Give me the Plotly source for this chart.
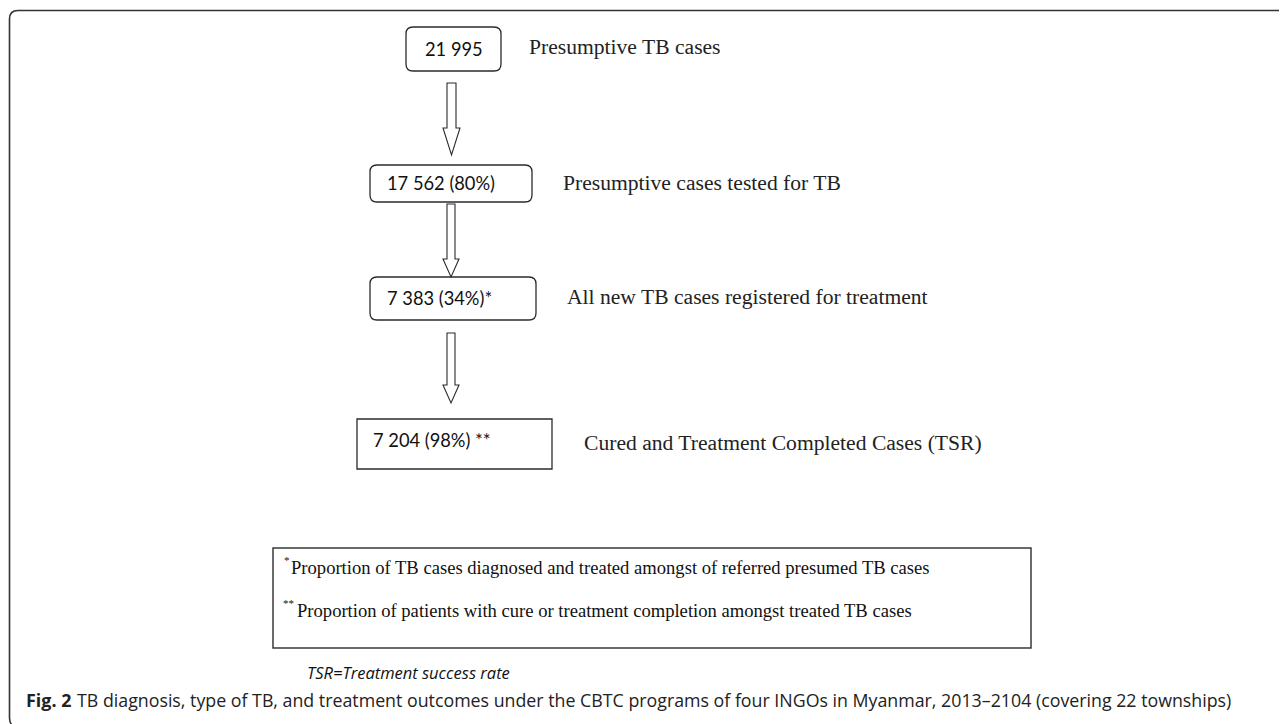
import plotly.graph_objects as go

# ---- data ----
counts = ["21 995", "17 562", "7 383", "7 204"]
percents = ["", "80%", "34%", "98%"]
marks = ["", "", "*", " **"]
stage_labels = [
    "Presumptive TB cases",
    "Presumptive cases tested for TB",
    "All new TB cases registered for treatment",
    "Cured and Treatment Completed Cases (TSR)",
]
footnote_marks = ["*", "**"]
footnote_texts = [
    "Proportion of TB cases diagnosed and treated amongst of referred presumed TB cases",
    "Proportion of patients with cure or treatment completion amongst treated TB cases",
]
abbrev_note = "TSR=Treatment success rate"
caption_bold = "Fig. 2"
caption_text = "TB diagnosis, type of TB, and treatment outcomes under the CBTC programs of four INGOs in Myanmar, 2013–2104 (covering 22 townships)"

# ---- layout geometry (pixels, y down) ----
W, H = 1287, 724
OFF = 8  # page body margin compensation
boxes = [  # x0, x1, y0, y1, rounded
    (406, 501, 27, 71, True),
    (370, 532, 165, 202, True),
    (370, 536, 277, 320, True),
    (357, 552, 419, 469, False),
]
box_text_pos = [(454, 49, "center"), (385, 183, "left"), (385, 298, "left"), (371, 440, "left")]
label_pos = [(527, 47), (561, 183), (565, 297), (582, 443)]
arrows = [  # shaft x0, x1, top, head start, head x0, x1, tip
    (447, 456, 83, 128, 443, 460, 155),
    (447, 455, 204, 259, 443, 459, 277),
    (447, 455, 333, 385, 443, 459, 403),
]
footnote_y = [567, 610]
footnote_mark_x = [283, 282]
footnote_text_x = [290, 296]

LINE = "#2b2b2b"


def rounded_path(x0, x1, y0, y1, r):
    return (f"M {x0+r},{y0} L {x1-r},{y0} Q {x1},{y0} {x1},{y0+r} "
            f"L {x1},{y1-r} Q {x1},{y1} {x1-r},{y1} L {x0+r},{y1} "
            f"Q {x0},{y1} {x0},{y1-r} L {x0},{y0+r} Q {x0},{y0} {x0+r},{y0} Z")


shapes = []
# outer frame (open on right)
shapes.append(dict(type="path",
                   path="M 1300,10.5 L 18,10.5 Q 9.5,10.5 9.5,19 L 9.5,718 Q 9.5,727 18,727 L 1300,727",
                   line=dict(color="#333333", width=1.6), xref="x", yref="y"))

for (x0, x1, y0, y1, rnd) in boxes:
    if rnd:
        shapes.append(dict(type="path", path=rounded_path(x0, x1, y0, y1, 7),
                           line=dict(color=LINE, width=1.3), xref="x", yref="y"))
    else:
        shapes.append(dict(type="rect", x0=x0, x1=x1, y0=y0, y1=y1,
                           line=dict(color=LINE, width=1.3), xref="x", yref="y"))

for (sx0, sx1, top, hy, hx0, hx1, tip) in arrows:
    cx = (hx0 + hx1) / 2
    p = (f"M {sx0},{top} L {sx1},{top} L {sx1},{hy} L {hx1},{hy} L {cx},{tip} "
         f"L {hx0},{hy} L {sx0},{hy} Z")
    shapes.append(dict(type="path", path=p, line=dict(color=LINE, width=1.1),
                       xref="x", yref="y"))

# footnote box
shapes.append(dict(type="rect", x0=273, x1=1031, y0=548, y1=648,
                   line=dict(color="#3a3a3a", width=1.5), xref="x", yref="y"))

annotations = []
for i, (c, p, m) in enumerate(zip(counts, percents, marks)):
    txt = c + (f" ({p})" if p else "") + m
    x, y, anc = box_text_pos[i]
    annotations.append(dict(x=x, y=y, text=txt, showarrow=False, xanchor=anc, yanchor="middle",
                            font=dict(family="Lato, Carlito, sans-serif", size=18.3, color="#111111")))
for lbl, (x, y) in zip(stage_labels, label_pos):
    annotations.append(dict(x=x, y=y, text=lbl, showarrow=False, xanchor="left", yanchor="middle",
                            font=dict(family="Liberation Serif, serif", size=21.6, color="#222222")))
for sym, txt, y, mx, tx in zip(footnote_marks, footnote_texts, footnote_y, footnote_mark_x, footnote_text_x):
    annotations.append(dict(x=mx, y=y - 7, text=sym, showarrow=False, xanchor="left", yanchor="middle",
                            borderpad=0,
                            font=dict(family="Liberation Serif, serif", size=11, color="#111111")))
    annotations.append(dict(x=tx, y=y, text=txt, showarrow=False, xanchor="left", yanchor="middle",
                            borderpad=0,
                            font=dict(family="Liberation Serif, serif", size=18.6, color="#111111")))
annotations.append(dict(x=305, y=672, text=abbrev_note, showarrow=False,
                        xanchor="left", yanchor="middle",
                        font=dict(family="Open Sans, sans-serif", size=16.5, color="#111111",
                                  style="italic")))
annotations.append(dict(x=24, y=700, text=caption_bold, showarrow=False,
                        xanchor="left", yanchor="middle",
                        font=dict(family="Open Sans, sans-serif", size=17.9, color="#222222",
                                  weight="bold")))
annotations.append(dict(x=75, y=700, text=caption_text, showarrow=False,
                        xanchor="left", yanchor="middle",
                        font=dict(family="Open Sans, sans-serif", size=17.8, color="#222222")))

fig = go.Figure()
fig.update_layout(
    width=W, height=H, margin=dict(l=0, r=0, t=0, b=0),
    paper_bgcolor="white", plot_bgcolor="white",
    xaxis=dict(range=[OFF, W + OFF], visible=False, fixedrange=True),
    yaxis=dict(range=[H + OFF, OFF], visible=False, fixedrange=True),
    shapes=shapes, annotations=annotations, showlegend=False,
)
fig.write_html("out.html")
